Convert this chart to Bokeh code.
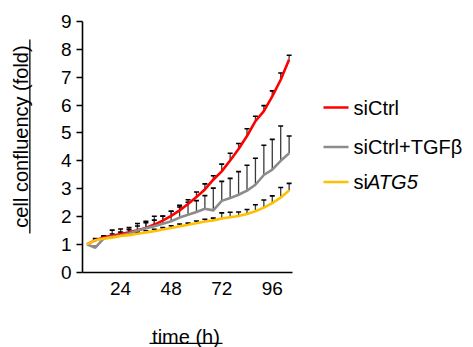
import math
from bokeh.plotting import figure
from bokeh.models import Range1d, FixedTicker, Label, BoxAnnotation, LinearAxis
from bokeh.embed import file_html
from bokeh.resources import INLINE

# ---- data ----
time_h = [8, 12, 16, 20, 24, 28, 32, 36, 40, 44, 48, 52, 56, 60, 64, 68, 72, 76, 80, 84, 88, 92, 96, 100, 104]

si_ctrl = [1.0, 1.15, 1.25, 1.31, 1.37, 1.43, 1.51, 1.59, 1.71, 1.85, 2.02, 2.22, 2.45, 2.70, 2.97,
           3.32, 3.62, 4.01, 4.42, 4.89, 5.42, 5.78, 6.31, 6.91, 7.64]
si_ctrl_err = [0, 0.06, 0.06, 0.2, 0.18, 0.17, 0.24, 0.24, 0.3, 0.17, 0.17, 0.18, 0.15, 0.18, 0.2,
               0.14, 0.26, 0.26, 0.2, 0.26, 0.18, 0.2, 0.2, 0.24, 0.15]

si_ctrl_tgfb = [1.0, 0.88, 1.21, 1.27, 1.32, 1.39, 1.5, 1.58, 1.65, 1.74, 1.83, 1.96, 2.06, 2.16, 2.28,
                2.22, 2.56, 2.66, 2.78, 2.93, 3.14, 3.49, 3.68, 4.0, 4.27]
si_ctrl_tgfb_err = [0, 0.05, 0.08, 0.1, 0.12, 0.14, 0.16, 0.2, 0.22, 0.27, 0.36, 0.38, 0.45, 0.41, 0.47,
                    0.8, 0.7, 0.71, 0.83, 0.91, 0.95, 1.07, 1.09, 1.25, 0.62]

si_atg5 = [1.0, 1.15, 1.21, 1.24, 1.3, 1.33, 1.38, 1.43, 1.47, 1.53, 1.59, 1.65, 1.7, 1.76, 1.82,
           1.86, 1.93, 1.97, 2.02, 2.09, 2.19, 2.32, 2.48, 2.68, 2.93]
si_atg5_err = [0, 0.03, 0.03, 0.04, 0.05, 0.05, 0.06, 0.06, 0.07, 0.07, 0.08, 0.08, 0.06, 0.08, 0.08,
               0.08, 0.2, 0.18, 0.14, 0.16, 0.23, 0.27, 0.26, 0.36, 0.26]

x_ticks = [24, 48, 72, 96]
y_ticks = [0, 1, 2, 3, 4, 5, 6, 7, 8, 9]

series = [
    ("siCtrl", si_ctrl, si_ctrl_err, "#ff0000"),
    ("siCtrl+TGFβ", si_ctrl_tgfb, si_ctrl_tgfb_err, "#8c8c8c"),
    ("siATG5", si_atg5, si_atg5_err, "#ffc000"),
]

FONT = "Liberation Sans"

# ---- layout geometry (pixels) ----
W, H = 473, 347
AX_LEFT, AX_RIGHT, AX_TOP, AX_BOTTOM = 82, 292, 21, 271.7
X_LO, X_HI = 5.9, 105.6      # data extent of the x axis line
Y_LO, Y_HI = 0, 9            # data extent of the y axis line
sx = (AX_RIGHT - AX_LEFT) / (X_HI - X_LO)
sy = (AX_BOTTOM - AX_TOP) / (Y_HI - Y_LO)
x_range = Range1d(X_LO - AX_LEFT / sx, X_HI + (W - AX_RIGHT) / sx)
y_range = Range1d(Y_LO - (H - AX_BOTTOM) / sy, Y_HI + AX_TOP / sy)

p = figure(width=W, height=H, output_backend="svg", toolbar_location=None,
           x_range=x_range, y_range=y_range,
           x_axis_location=None, y_axis_location=None,
           min_border=0, min_border_left=0, min_border_right=0,
           min_border_top=0, min_border_bottom=0)
p.outline_line_color = None
p.grid.visible = False
p.background_fill_color = "white"
p.border_fill_color = "white"

xaxis = LinearAxis(fixed_location=Y_LO, bounds=(X_LO, X_HI), ticker=FixedTicker(ticks=x_ticks))
yaxis = LinearAxis(fixed_location=X_LO, bounds=(Y_LO, Y_HI), ticker=FixedTicker(ticks=y_ticks))
for ax in (xaxis, yaxis):
    ax.axis_line_color = "black"
    ax.axis_line_width = 1.6
    ax.major_label_text_font = FONT
    ax.major_label_text_font_size = "19px"
    ax.major_label_text_color = "black"
    ax.minor_tick_line_color = None
xaxis.major_tick_line_color = None
xaxis.major_tick_out = 0
xaxis.major_tick_in = 0
xaxis.major_label_standoff = 10
yaxis.major_tick_out = 6
yaxis.major_tick_in = 0
yaxis.major_tick_line_width = 1.4
yaxis.major_tick_line_color = "black"
yaxis.major_label_standoff = 5
p.add_layout(xaxis, "below")
p.add_layout(yaxis, "left")

# error bars (upper only) and lines
for name, ys, errs, col in series:
    tx = [t for t, e in zip(time_h, errs) if e > 0]
    y0 = [y for y, e in zip(ys, errs) if e > 0]
    y1 = [y + e for y, e in zip(ys, errs) if e > 0]
    p.segment(x0=tx, y0=y0, x1=tx, y1=y1, line_color="#3a3a3a", line_width=1.3)
    p.scatter(x=tx, y=y1, marker="dash", size=5, line_color="black", line_width=1.6)
for name, ys, errs, col in series:
    p.line(time_h, ys, line_color=col, line_width=2.6)


def box(l, r, b, t, color):
    return BoxAnnotation(left=l, right=r, bottom=b, top=t,
                         left_units="screen", right_units="screen",
                         bottom_units="screen", top_units="screen",
                         fill_color=color, fill_alpha=1, line_color=None)


# axis titles (underlined); screen units measured from bottom-left
p.add_layout(Label(x=20, y=211, x_units="screen", y_units="screen",
                   text="cell confluency (fold)", angle=math.pi / 2,
                   text_align="center", text_baseline="middle",
                   text_font=FONT, text_font_size="20px", text_color="black"))
p.add_layout(box(28.7, 30, 114, 308, "black"))
p.add_layout(Label(x=185.5, y=11, x_units="screen", y_units="screen",
                   text="time (h)", text_align="center", text_baseline="alphabetic",
                   text_font=FONT, text_font_size="20px", text_color="black"))
p.add_layout(box(149, 222, 3.4, 4.7, "black"))

# manual legend (siATG5 with italic gene name)
rows_y = [240, 200.5, 165.5]
for (name, ys, errs, col), ry in zip(series, rows_y):
    p.add_layout(box(323, 348, ry - 1.3, ry + 1.3, col))
legend_texts = [("siCtrl", 353, rows_y[0], "normal"),
                ("siCtrl+TGFβ", 353, rows_y[1], "normal"),
                ("si", 353, rows_y[2], "normal"),
                ("ATG5", 366.5, rows_y[2], "italic")]
for txt, lx, ly, style in legend_texts:
    p.add_layout(Label(x=lx, y=ly, x_units="screen", y_units="screen", text=txt,
                       text_align="left", text_baseline="middle", text_font=FONT,
                       text_font_size="20px", text_font_style=style, text_color="black"))

open("out.html", "w").write(file_html(p, INLINE))
